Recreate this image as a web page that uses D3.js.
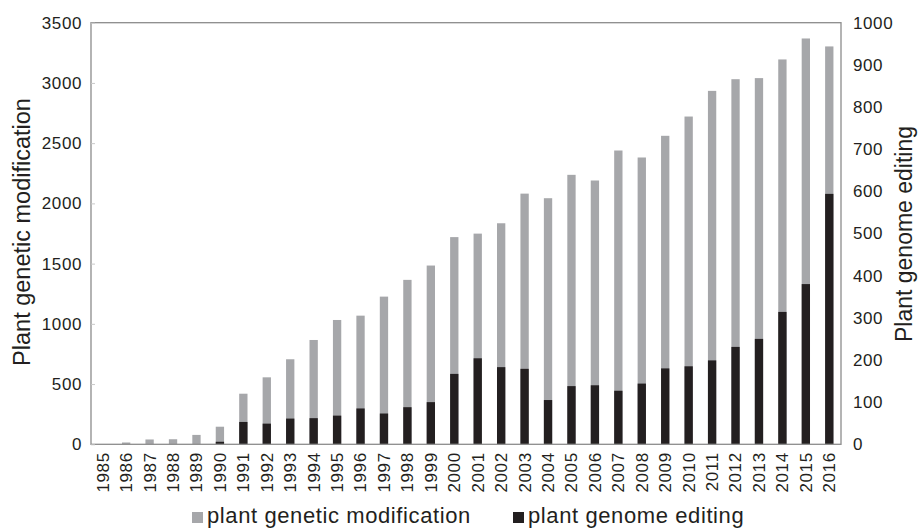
<!DOCTYPE html>
<html>
<head>
<meta charset="utf-8">
<script src="https://cdn.jsdelivr.net/npm/d3@7"></script>
<style>
    body { margin: 0; background: #fff; }
    svg text { font-family: "Liberation Sans", Arial, sans-serif; fill: #231f20; }
</style>
</head>
<body>
<svg id="chart" width="918" height="529"></svg>
<script>
// years on the x axis
const years = d3.range(1985, 2017).map(String);

// plant genetic modification (left axis)
const geneticModification = [0, 15, 40, 42, 78, 146, 420, 556, 706, 866, 1032, 1068, 1226, 1365, 1484,
    1720, 1749, 1835, 2081, 2043, 2237, 2190, 2439, 2381, 2561, 2721, 2934, 3031, 3040, 3195, 3369, 3303];

// plant genome editing (right axis)
const genomeEditing = [0, 0, 0, 0, 0, 6, 53, 49, 61, 62, 68, 85, 73, 88, 100,
    167, 204, 183, 179, 105, 138, 140, 127, 144, 180, 185, 199, 231, 250, 314, 380, 594];

const leftTicks = [0, 500, 1000, 1500, 2000, 2500, 3000, 3500];
const rightTicks = [0, 100, 200, 300, 400, 500, 600, 700, 800, 900, 1000];

const legendLabels = ['plant genetic modification', 'plant genome editing'];
const colors = ['#a6a7aa', '#231f20'];

const margin = { top: 22.7, right: 77, bottom: 84.7, left: 91 };
const width = 918, height = 529;

const svg = d3.select('#chart');

const x = d3.scaleBand()
    .domain(years)
    .range([margin.left, width - margin.right])
    .paddingInner(0.645)
    .paddingOuter(0.3225);

const yLeft = d3.scaleLinear()
    .domain([0, 3500])
    .range([height - margin.bottom, margin.top]);

const yRight = d3.scaleLinear()
    .domain([0, 1000])
    .range([height - margin.bottom, margin.top]);

// bars
svg.append('g')
    .selectAll('rect')
    .data(years)
    .join('rect')
        .attr('x', d => x(d))
        .attr('width', x.bandwidth())
        .attr('y', (d, i) => yLeft(geneticModification[i]))
        .attr('height', (d, i) => yLeft(0) - yLeft(geneticModification[i]))
        .style('fill', colors[0])

svg.append('g')
    .selectAll('rect')
    .data(years)
    .join('rect')
        .attr('x', d => x(d))
        .attr('width', x.bandwidth())
        .attr('y', (d, i) => yRight(genomeEditing[i]))
        .attr('height', (d, i) => yRight(0) - yRight(genomeEditing[i]))
        .style('fill', colors[1])

// frame
svg.append('rect')
    .attr('x', margin.left)
    .attr('y', margin.top)
    .attr('width', width - margin.left - margin.right)
    .attr('height', height - margin.top - margin.bottom)
    .style('fill', 'none')
    .style('stroke', '#8c8c8c')
    .style('stroke-width', 1.3)

// left axis
const gLeft = svg.append('g')
    .attr('transform', `translate(${margin.left},0)`)
    .call(d3.axisLeft(yLeft).tickValues(leftTicks).tickFormat(d3.format('d'))
        .tickSizeInner(-4).tickSizeOuter(0).tickPadding(9))
gLeft.select('.domain').remove();
gLeft.selectAll('.tick line').style('stroke', '#c8c8c8');
gLeft.selectAll('.tick text').style('font-size', '17px').style('letter-spacing', '0.6px').attr('fill', null);

// right axis
const gRight = svg.append('g')
    .attr('transform', `translate(${width - margin.right},0)`)
    .call(d3.axisRight(yRight).tickValues(rightTicks).tickFormat(d3.format('d'))
        .tickSize(0).tickPadding(12))
gRight.select('.domain').remove();
gRight.selectAll('.tick text').style('font-size', '17px').style('letter-spacing', '0.6px').attr('fill', null);

// bottom axis
const gBottom = svg.append('g')
    .attr('transform', `translate(0,${height - margin.bottom})`)
    .call(d3.axisBottom(x).tickSize(0).tickPadding(0))
gBottom.select('.domain').remove();
gBottom.selectAll('.tick text')
    .style('font-size', '17px')
    .style('letter-spacing', '0.6px')
    .attr('fill', null)
    .attr('text-anchor', 'end')
    .attr('dy', '0.35em')
    .attr('transform', 'translate(0,8) rotate(-90)')
    .attr('y', 0)
    .attr('x', 0)

// axis titles
svg.append('text')
    .attr('transform', `translate(30,232) rotate(-90)`)
    .attr('text-anchor', 'middle')
    .style('font-size', '23.5px')
    .text('Plant genetic modification')

svg.append('text')
    .attr('transform', `translate(912,234) rotate(-90)`)
    .attr('text-anchor', 'middle')
    .style('font-size', '23px')
    .text('Plant genome editing')

// legend
const legendX = [192, 513];
const legend = svg.append('g')
    .selectAll('g')
    .data(legendLabels)
    .join('g')
        .attr('transform', (d, i) => `translate(${legendX[i]},512)`)

legend.append('rect')
    .attr('width', 11)
    .attr('height', 11)
    .style('fill', (d, i) => colors[i])

legend.append('text')
    .attr('x', 15)
    .attr('y', 11)
    .style('font-size', '22px')
    .style('letter-spacing', '0.6px')
    .text(d => d)
</script>
</body>
</html>
